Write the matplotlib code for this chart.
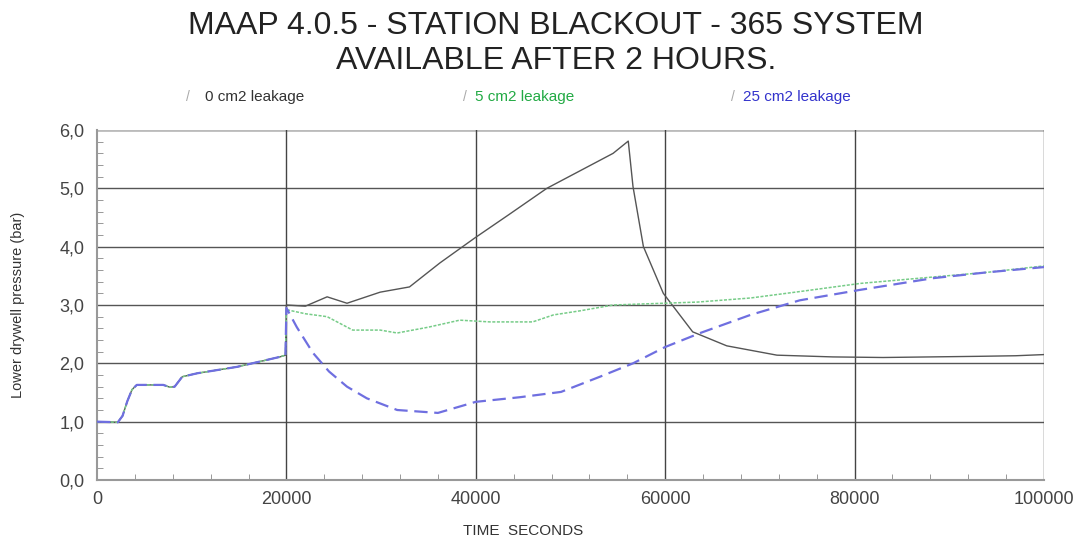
import matplotlib.pyplot as plt
from matplotlib.ticker import MultipleLocator, FuncFormatter

plt.rcParams['font.family'] = ['Liberation Sans', 'DejaVu Sans']

# common part of the transient (identical for all cases until 20000 s)
t_common = [0, 2200, 2700, 3200, 3700, 4200, 7000, 7700, 8200, 9000, 10600,
            14800, 19300, 19900]
p_common = [1.0, 0.99, 1.1, 1.35, 1.55, 1.63, 1.63, 1.59, 1.6, 1.77, 1.83,
            1.94, 2.11, 2.14]

# 0 cm2 leakage
t_0 = [20000, 22000, 24300, 26400, 29900, 33000, 36200, 39900, 43500, 47500,
       51000, 54500, 56100, 56600, 57700, 59800, 62900, 66500, 71800, 77700,
       83000, 88000, 93000, 97000, 100000]
p_0 = [3.0, 2.98, 3.14, 3.03, 3.22, 3.31, 3.72, 4.15, 4.55, 5.0, 5.3, 5.6,
       5.81, 5.03, 4.0, 3.2, 2.54, 2.3, 2.14, 2.11, 2.1, 2.11, 2.12, 2.13,
       2.15]

# 5 cm2 leakage
t_5 = [20000, 22000, 24300, 27000, 29900, 31700, 35000, 38300, 41500, 46000,
       48200, 51000, 54500, 58000, 63400, 69000, 74200, 80600, 88300, 94000,
       100000]
p_5 = [2.92, 2.85, 2.8, 2.57, 2.57, 2.52, 2.62, 2.74, 2.71, 2.71, 2.83, 2.9,
       3.0, 3.02, 3.05, 3.12, 3.23, 3.37, 3.48, 3.56, 3.67]

# 25 cm2 leakage
t_25 = [20000, 21100, 22800, 24500, 26400, 28500, 31700, 36000, 40000, 44700,
        49000, 53100, 56600, 60000, 63700, 69000, 74200, 80600, 88300, 94000,
        100000]
p_25 = [2.95, 2.62, 2.18, 1.86, 1.6, 1.4, 1.2, 1.15, 1.34, 1.42, 1.51, 1.77,
        2.0, 2.28, 2.52, 2.83, 3.08, 3.26, 3.46, 3.56, 3.65]

fig = plt.figure(figsize=(10.79, 5.43), dpi=100)
ax = fig.add_axes([97 / 1079, 63 / 543, 947 / 1079, 350 / 543])

for y in [1, 2, 3, 4, 5]:
    ax.axhline(y, color='#555555', lw=1.0, zorder=1)
ax.axhline(6, color='#bbbbbb', lw=2.0, zorder=1)
for x in [20000, 40000, 60000, 80000, 100000]:
    ax.axvline(x, color='#444444', lw=1.0, zorder=1)

ax.plot(t_common + t_0, p_common + p_0, color='#555555', lw=1.0, zorder=3)
ax.plot(t_common + t_5, p_common + p_5, color='#77cc88', lw=1.1,
        ls=(0, (2, 1)), zorder=3)
ax.plot(t_common + t_25, p_common + p_25, color='#6f6fe0', lw=1.6,
        ls=(0, (6, 3)), zorder=4)

ax.set_xlim(0, 100000)
ax.set_ylim(0, 6)
ax.xaxis.set_major_locator(MultipleLocator(20000))
ax.xaxis.set_minor_locator(MultipleLocator(4000))
ax.yaxis.set_major_locator(MultipleLocator(1))
ax.yaxis.set_minor_locator(MultipleLocator(0.2))
ax.yaxis.set_major_formatter(FuncFormatter(lambda v, p: ('%.1f' % v).replace('.', ',')))
ax.tick_params(which='major', length=0, labelsize=13, labelcolor='#444444', pad=8)
ax.tick_params(axis='y', which='major', pad=9)
ax.tick_params(which='minor', direction='in', length=4, color='#888888')

for s in ['top', 'right']:
    ax.spines[s].set_visible(False)
for s in ['left', 'bottom']:
    ax.spines[s].set_color('#999999')
    ax.spines[s].set_linewidth(1.5)

ax.set_ylabel('Lower drywell pressure (bar)', fontsize=10.5, color='#333333')
ax.yaxis.set_label_coords(-72 / 947, 0.5)
ax.set_xlabel('TIME  SECONDS', fontsize=11, color='#333333')
ax.xaxis.set_label_coords(426 / 947, -44 / 350)

fig.text(0.515, 0.952, 'MAAP 4.0.5 - STATION BLACKOUT - 365 SYSTEM',
         ha='center', va='center', fontsize=23, color='#222222')
fig.text(0.515, 0.887, 'AVAILABLE AFTER 2 HOURS.',
         ha='center', va='center', fontsize=23, color='#222222')

legend_items = [('0 cm2 leakage', '#333333', 186, 205),
                ('5 cm2 leakage', '#22aa44', 463, 475),
                ('25 cm2 leakage', '#3333cc', 731, 743)]
for label, col, xs, xt in legend_items:
    fig.text(xs / 1079, 1 - 97 / 543, '/', color='#aaaaaa', fontsize=10,
             va='center')
    fig.text(xt / 1079, 1 - 97 / 543, label, color=col, fontsize=11,
             va='center')

fig.savefig('out.png', dpi=100)
